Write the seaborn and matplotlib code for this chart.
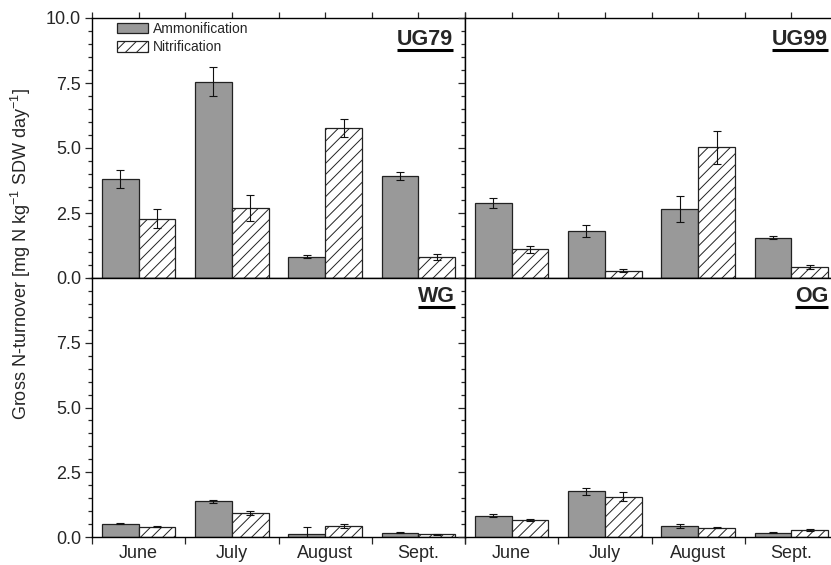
import numpy as np
import pandas as pd
import matplotlib
matplotlib.use("Agg")
import matplotlib.pyplot as plt
import seaborn as sns
from matplotlib.patches import Patch
from matplotlib.ticker import MultipleLocator, FixedLocator, NullFormatter

months = ["June", "July", "August", "Sept."]
processes = ["Ammonification", "Nitrification"]

ug79_amm = [3.82, 7.55, 0.82, 3.92]
ug79_amm_err = [0.35, 0.55, 0.05, 0.15]
ug79_nit = [2.28, 2.69, 5.78, 0.82]
ug79_nit_err = [0.37, 0.50, 0.35, 0.12]

ug99_amm = [2.88, 1.80, 2.65, 1.55]
ug99_amm_err = [0.18, 0.22, 0.50, 0.05]
ug99_nit = [1.10, 0.28, 5.02, 0.42]
ug99_nit_err = [0.12, 0.05, 0.62, 0.08]

wg_amm = [0.52, 1.38, 0.13, 0.17]
wg_amm_err = [0.03, 0.05, 0.24, 0.02]
wg_nit = [0.40, 0.93, 0.43, 0.10]
wg_nit_err = [0.02, 0.07, 0.08, 0.01]

og_amm = [0.82, 1.77, 0.41, 0.17]
og_amm_err = [0.05, 0.13, 0.08, 0.02]
og_nit = [0.64, 1.56, 0.36, 0.26]
og_nit_err = [0.04, 0.17, 0.02, 0.04]

panels = [
    ("UG79", ug79_amm, ug79_amm_err, ug79_nit, ug79_nit_err),
    ("UG99", ug99_amm, ug99_amm_err, ug99_nit, ug99_nit_err),
    ("WG", wg_amm, wg_amm_err, wg_nit, wg_nit_err),
    ("OG", og_amm, og_amm_err, og_nit, og_nit_err),
]

sns.set_style("white")
plt.rcParams["font.family"] = ["Liberation Sans", "DejaVu Sans"]
plt.rcParams["hatch.linewidth"] = 0.7
plt.rcParams["mathtext.fontset"] = "custom"
plt.rcParams["mathtext.rm"] = "Liberation Sans"
plt.rcParams["mathtext.it"] = "Liberation Sans:italic"

W, H = 831, 565
fig = plt.figure(figsize=(W / 100, H / 100), dpi=100)

xl, xm = 92, 465
pw = xm - xl
ytop, ymid, ybot = 18, 278, 537
rects = [
    [xl / W, 1 - ymid / H, pw / W, (ymid - ytop) / H],
    [xm / W, 1 - ymid / H, pw / W, (ymid - ytop) / H],
    [xl / W, 1 - ybot / H, pw / W, (ybot - ymid) / H],
    [xm / W, 1 - ybot / H, pw / W, (ybot - ymid) / H],
]

palette = {"Ammonification": "#999999", "Nitrification": "white"}
axes = []
for i, (name, amm, amm_e, nit, nit_e) in enumerate(panels):
    ax = fig.add_axes(rects[i])
    axes.append(ax)
    df = pd.DataFrame({
        "month": months * 2,
        "process": [processes[0]] * 4 + [processes[1]] * 4,
        "value": list(amm) + list(nit),
        "err": list(amm_e) + list(nit_e),
    })
    sns.barplot(data=df, x="month", y="value", hue="process", order=months,
                hue_order=processes, palette=palette, edgecolor="#222222",
                linewidth=0.9, errorbar=None, legend=False, ax=ax, width=0.79)
    bars = [p for p in ax.patches]
    xs, ys, es = [], [], []
    for p, (_, row) in zip(bars, df.iterrows()):
        if row["process"] == "Nitrification":
            p.set_hatch("///")
        xs.append(p.get_x() + p.get_width() / 2)
        ys.append(row["value"])
        es.append(row["err"])
    ax.errorbar(xs, ys, yerr=es, fmt="none", ecolor="#111111",
                elinewidth=0.8, capsize=3, capthick=0.8, zorder=5)

    ax.set_xlim(-0.5, 3.5)
    ax.set_ylim(0, 10)
    ax.set_xlabel("")
    ax.set_ylabel("")
    for s in ax.spines.values():
        s.set_color("black")
        s.set_linewidth(1.0)

    ax.yaxis.set_major_locator(MultipleLocator(2.5))
    ax.yaxis.set_minor_locator(MultipleLocator(0.5))
    ax.tick_params(axis="y", which="major", direction="out", length=5,
                   width=0.9, left=True, labelsize=13, pad=3)
    ax.tick_params(axis="y", which="minor", direction="out", length=3,
                   width=0.9, left=True)
    if i in (1, 3):
        ax.tick_params(axis="y", labelleft=False)
    if i == 2:
        ax.set_yticks([0, 2.5, 5.0, 7.5])
        ax.set_yticklabels(["0.0", "2.5", "5.0", "7.5"])
    elif i == 0:
        ax.set_yticks([0, 2.5, 5.0, 7.5, 10.0])
        ax.set_yticklabels(["0.0", "2.5", "5.0", "7.5", "10.0"])

    ax.xaxis.set_minor_locator(FixedLocator([-0.5, 0.5, 1.5, 2.5, 3.5]))
    ax.xaxis.set_minor_formatter(NullFormatter())
    if i < 2:
        ax.set_xticks(range(4))
        ax.set_xticklabels([])
        ax.tick_params(axis="x", which="major", direction="out", length=4,
                       width=0.9, bottom=True, top=True)
        ax.tick_params(axis="x", which="minor", direction="out", length=4,
                       width=0.9, bottom=False, top=True)
    else:
        ax.set_xticks(range(4))
        ax.set_xticklabels(months)
        ax.tick_params(axis="x", which="major", length=0, labelsize=13, pad=6)
        ax.tick_params(axis="x", which="minor", direction="out", length=5,
                       width=0.9, bottom=True, top=False)

fig.text(21 / W, 1 - 254 / H,
         "Gross N-turnover [mg N kg$^{-1}$ SDW day$^{-1}$]",
         rotation=90, ha="center", va="center", fontsize=13)

handles = [Patch(facecolor="#999999", edgecolor="#222222", linewidth=0.9, label="Ammonification"),
           Patch(facecolor="white", edgecolor="#222222", linewidth=0.9, hatch="///", label="Nitrification")]
axes[0].legend(handles=handles, loc="upper left", bbox_to_anchor=((117 - xl) / pw, 0.985),
               frameon=False, fontsize=10, handlelength=2.25, handleheight=0.8,
               borderpad=0, borderaxespad=0, handletextpad=0.35, labelspacing=0.3)

label_pos = [(453, 45), (828, 45), (455, 302), (828, 302)]
texts = []
for i, (name, *_rest) in enumerate(panels):
    ax = axes[i]
    px, py = label_pos[i]
    x0 = xl if i in (0, 2) else xm
    y0 = ymid if i < 2 else ybot
    hh = (ymid - ytop) if i < 2 else (ybot - ymid)
    t = ax.text((px - x0) / pw, (y0 - py) / hh, name, transform=ax.transAxes,
                ha="right", va="baseline", fontsize=15.5, fontweight="bold")
    texts.append((ax, t, hh))

fig.canvas.draw()
renderer = fig.canvas.get_renderer()
for ax, t, hh in texts:
    bb = t.get_window_extent(renderer=renderer)
    inv = ax.transAxes.inverted()
    (bx0, _), (bx1, _) = inv.transform([(bb.x0, bb.y0), (bb.x1, bb.y0)])
    tx, ty = t.get_position()
    ax.plot([bx0, bx1], [ty - 4.5 / hh, ty - 4.5 / hh], transform=ax.transAxes,
            color="black", lw=2.2, clip_on=False, solid_capstyle="butt")

fig.savefig("out.png", dpi=100)
